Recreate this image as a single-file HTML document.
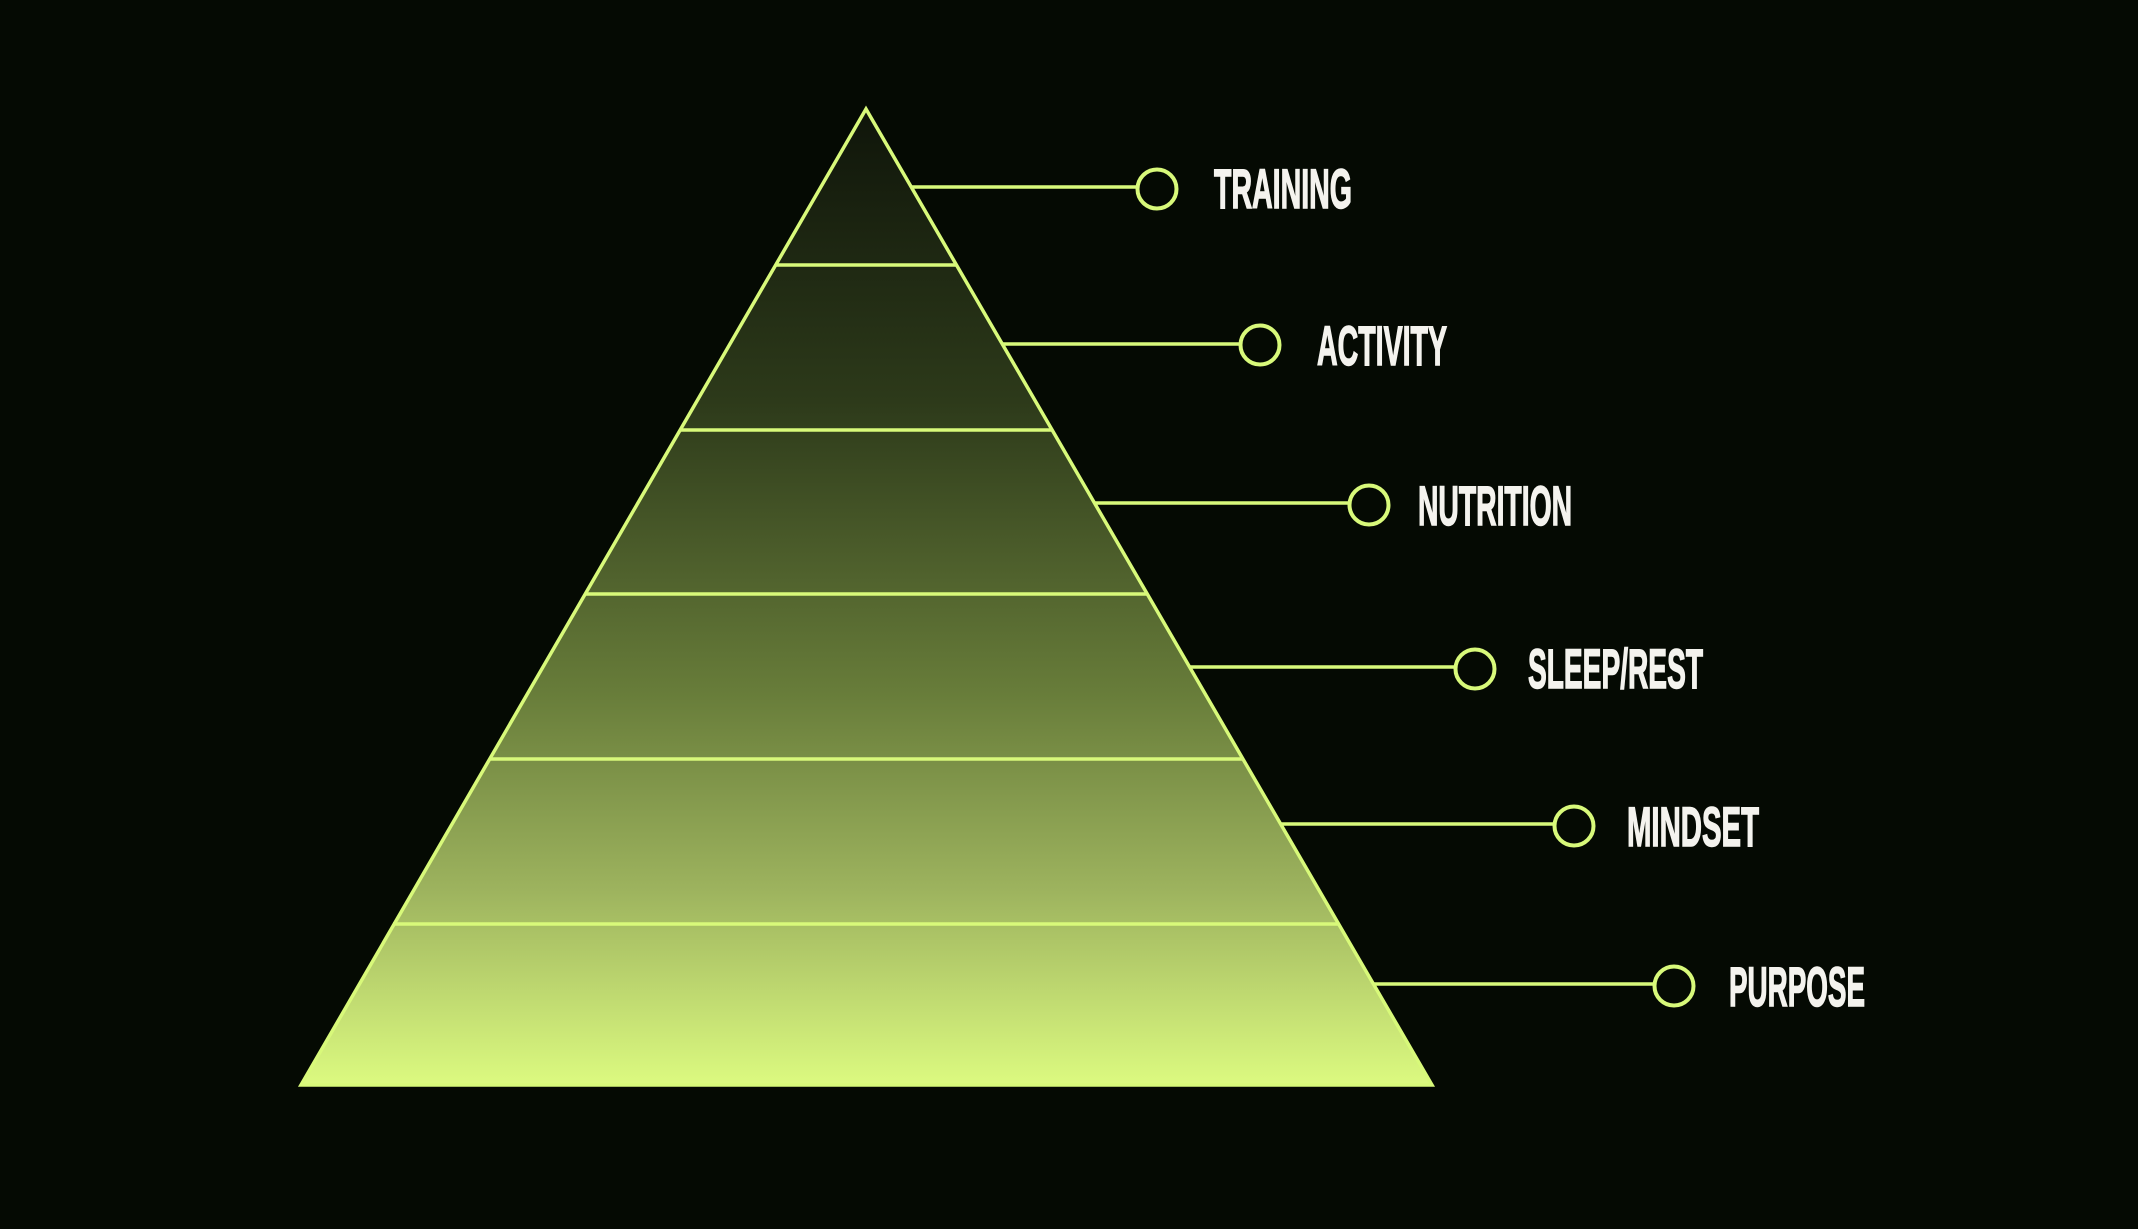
<!DOCTYPE html>
<html><head><meta charset="utf-8"><style>
html,body{margin:0;padding:0;background:#050a03;}
svg{display:block;}
text{font-family:"Liberation Sans",sans-serif;font-weight:bold;fill:#f4f3ee;stroke:#f4f3ee;stroke-width:1.5;font-size:56px;}
</style></head><body>
<svg width="2138" height="1229" viewBox="0 0 2138 1229" xmlns="http://www.w3.org/2000/svg">
<defs>
<linearGradient id="g" x1="0" y1="109" x2="0" y2="1085" gradientUnits="userSpaceOnUse">
<stop offset="0" stop-color="#0f150a"/>
<stop offset="0.3" stop-color="#2d3a1a"/>
<stop offset="0.6" stop-color="#687d3a"/>
<stop offset="0.8" stop-color="#9db35e"/>
<stop offset="1" stop-color="#dcfa80"/>
</linearGradient>
</defs>
<rect width="2138" height="1229" fill="#050a03"/>
<polygon points="866,109 1432,1085 301,1085" fill="url(#g)" stroke="#d8f97a" stroke-width="3.5" stroke-linejoin="miter"/>
<g stroke="#d8f97a" stroke-width="3.5">
<line x1="775" y1="265" x2="957" y2="265"/>
<line x1="680" y1="430" x2="1052" y2="430"/>
<line x1="585" y1="594" x2="1147" y2="594"/>
<line x1="489" y1="759" x2="1243" y2="759"/>
<line x1="393" y1="924" x2="1339" y2="924"/>
<line x1="911" y1="187" x2="1137" y2="187"/>
<line x1="1002" y1="344" x2="1240" y2="344"/>
<line x1="1094" y1="503" x2="1349" y2="503"/>
<line x1="1190" y1="667" x2="1455" y2="667"/>
<line x1="1281" y1="824" x2="1554" y2="824"/>
<line x1="1373" y1="984" x2="1654" y2="984"/>
</g>
<g stroke="#d8f97a" stroke-width="4" fill="none">
<circle cx="1157" cy="189" r="19.5"/>
<circle cx="1260" cy="345" r="19.5"/>
<circle cx="1369" cy="505" r="19.5"/>
<circle cx="1475" cy="669" r="19.5"/>
<circle cx="1574" cy="826" r="19.5"/>
<circle cx="1674" cy="986" r="19.5"/>
</g>
<text x="1214" y="208" textLength="138" lengthAdjust="spacingAndGlyphs">TRAINING</text>
<text x="1317" y="365" textLength="130" lengthAdjust="spacingAndGlyphs">ACTIVITY</text>
<text x="1418" y="525" textLength="154" lengthAdjust="spacingAndGlyphs">NUTRITION</text>
<text x="1528" y="688" textLength="175" lengthAdjust="spacingAndGlyphs">SLEEP/REST</text>
<text x="1627" y="846" textLength="132" lengthAdjust="spacingAndGlyphs">MINDSET</text>
<text x="1729" y="1006" textLength="136" lengthAdjust="spacingAndGlyphs">PURPOSE</text>
</svg>
</body></html>
